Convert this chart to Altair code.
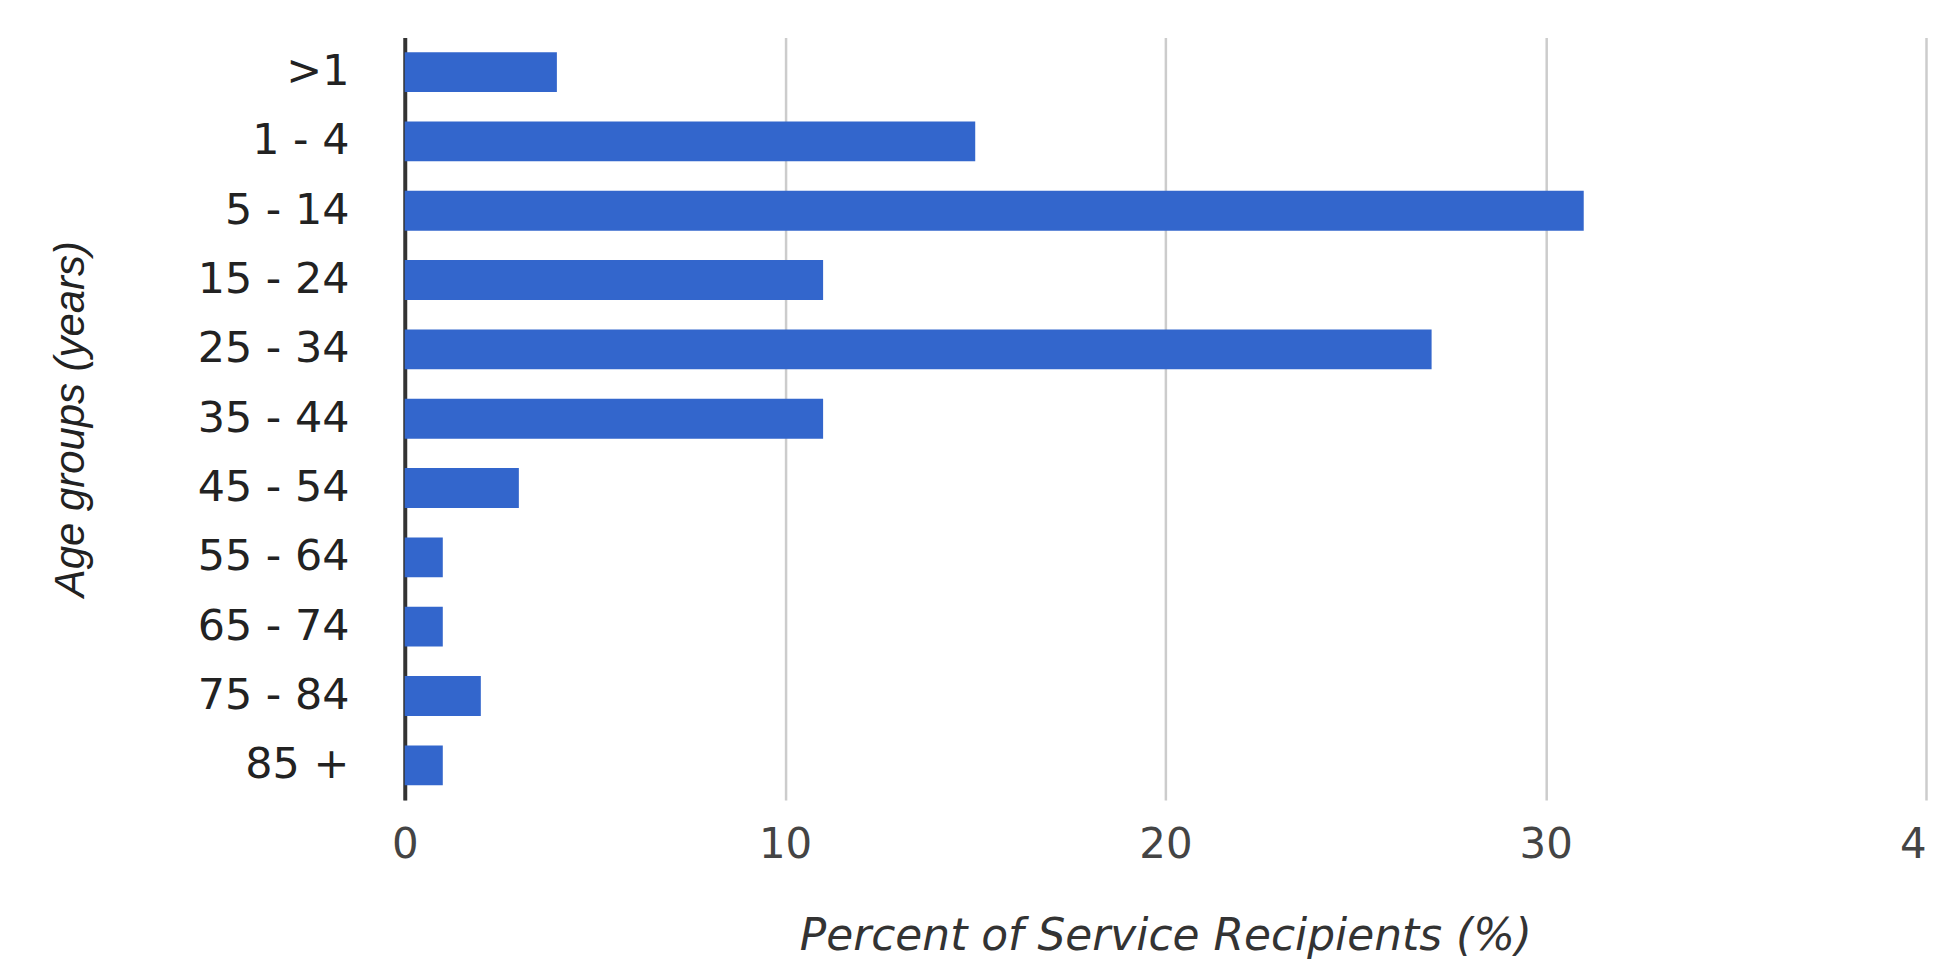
import altair as alt
import pandas as pd

age_groups = [">1", "1 - 4", "5 - 14", "15 - 24", "25 - 34", "35 - 44",
              "45 - 54", "55 - 64", "65 - 74", "75 - 84", "85 +"]
percents = [4, 15, 31, 11, 27, 11, 3, 1, 1, 2, 1]
x_ticks = [0, 10, 20, 30, 40]

df = pd.DataFrame({"age": age_groups, "pct": percents})

chart = alt.Chart(df).mark_bar(color="#3366CC").encode(
    y=alt.Y(
        "age:N",
        sort=age_groups,
        scale=alt.Scale(paddingInner=0.425, paddingOuter=0.2125),
        axis=alt.Axis(
            title="Age groups (years)",
            titleFont="Liberation Sans",
            titleFontStyle="italic",
            titleFontWeight="normal",
            titleFontSize=42,
            titleColor="#222222",
            titleX=-322,
            titleBaseline="alphabetic",
            labelFont="DejaVu Sans",
            labelFontSize=43,
            labelColor="#222222",
            labelPadding=56,
            ticks=False,
            tickSize=0,
            domain=True,
            domainColor="#333333",
            domainWidth=4,
            grid=False,
        ),
    ),
    x=alt.X(
        "pct:Q",
        scale=alt.Scale(domain=[0, 40], nice=False),
        axis=alt.Axis(
            values=x_ticks,
            title="Percent of Service Recipients (%)",
            titleFont="DejaVu Sans",
            titleFontStyle="italic",
            titleFontWeight="normal",
            titleFontSize=44,
            titleColor="#333333",
            titleY=150,
            titleBaseline="alphabetic",
            labelFont="DejaVu Sans",
            labelFontSize=42,
            labelColor="#444444",
            labelPadding=25,
            labelFlush=False,
            ticks=False,
            tickSize=0,
            domain=False,
            grid=True,
            gridColor="#cccccc",
            gridWidth=2.5,
        ),
    ),
).properties(
    width=1526,
    height=765,
    autosize=alt.AutoSizeParams(type="none"),
    padding={"left": 398, "top": 28, "right": 2, "bottom": 159},
).configure_view(stroke=None)

chart.save("out.html", embed_options={"renderer": "svg", "actions": False})
